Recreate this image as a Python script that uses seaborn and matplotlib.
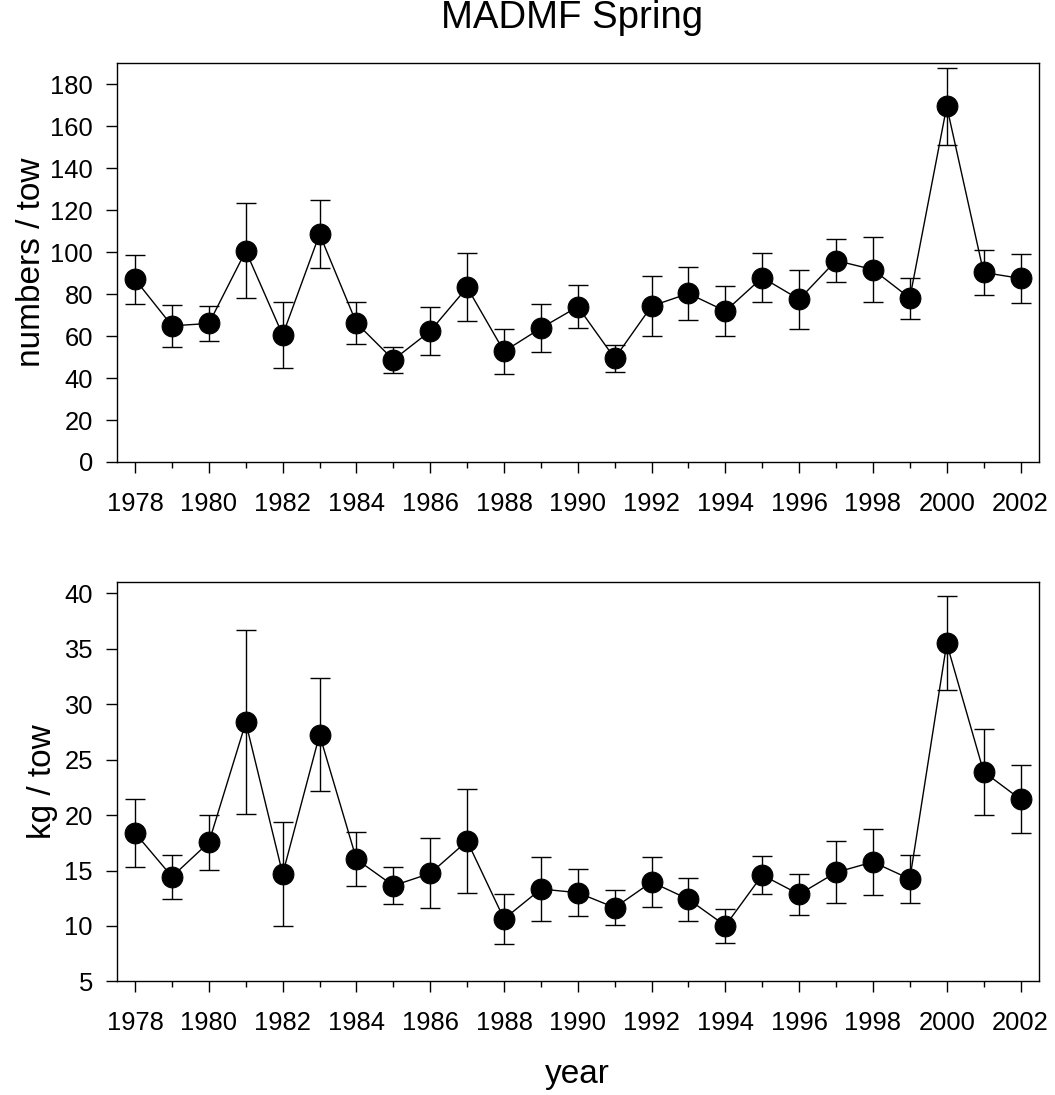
import matplotlib
matplotlib.use("Agg")
import matplotlib.pyplot as plt
from matplotlib.ticker import MultipleLocator
import seaborn as sns

# Survey index by year: mean and half-width of the error bar
years = list(range(1978, 2003))

numbers_mean = [87.0, 64.9, 66.0, 100.6, 60.5, 108.6, 66.2, 48.7, 62.4, 83.2,
                52.7, 63.8, 74.0, 49.4, 74.3, 80.3, 71.9, 87.9, 77.5, 96.0,
                91.7, 78.1, 169.5, 90.3, 87.5]
numbers_err = [11.8, 9.9, 8.3, 22.6, 15.6, 16.3, 10.2, 6.2, 11.4, 16.2,
               10.6, 11.4, 10.3, 6.5, 14.5, 12.8, 11.8, 11.5, 14.1, 10.3,
               15.6, 9.8, 18.4, 10.8, 11.7]

kg_mean = [18.38, 14.44, 17.54, 28.36, 14.68, 27.25, 16.01, 13.63, 14.74, 17.66,
           10.63, 13.33, 13.00, 11.65, 13.96, 12.40, 10.02, 14.59, 12.85, 14.83,
           15.77, 14.23, 35.49, 23.91, 21.42]
kg_err = [3.1, 2.0, 2.5, 8.3, 4.7, 5.1, 2.45, 1.65, 3.15, 4.7,
          2.27, 2.9, 2.1, 1.6, 2.24, 1.95, 1.55, 1.75, 1.83, 2.8,
          3.0, 2.13, 4.24, 3.9, 3.07]

title = "MADMF Spring"
top_ylabel = "numbers / tow"
bottom_ylabel = "kg / tow"
xlabel = "year"

sns.set_style("ticks")
plt.rcParams["font.family"] = ["Liberation Sans", "DejaVu Sans"]
plt.rcParams.update({
    "axes.linewidth": 1.0,
    "text.color": "black",
    "axes.labelcolor": "black",
    "axes.edgecolor": "black",
    "xtick.color": "black",
    "ytick.color": "black",
})

fig = plt.figure(figsize=(10.55, 10.95), dpi=100)
ax_top = fig.add_axes([0.1106, 0.5781, 0.8742, 0.3641])
ax_bot = fig.add_axes([0.1106, 0.1038, 0.8742, 0.3644])


def draw_panel(ax, means, errs, ylim, ystep, ylabel, label_x):
    ax.errorbar(years, means, yerr=errs, fmt="none", ecolor="black",
                elinewidth=1.0, capsize=7.5, capthick=1.0, zorder=2)
    sns.lineplot(x=years, y=means, ax=ax, color="black", linewidth=1.0,
                 marker="o", markersize=15, markeredgecolor="black",
                 markerfacecolor="black", zorder=3)
    ax.set_xlim(1977.5, 2002.5)
    ax.set_ylim(*ylim)
    ax.xaxis.set_minor_locator(MultipleLocator(1))
    ax.yaxis.set_major_locator(MultipleLocator(ystep))
    ax.set_xticks(years[::2])
    ax.set_xticklabels([str(y) for y in years[::2]])
    ax.tick_params(axis="both", which="major", direction="out", length=7.6,
                   width=1.0, labelsize=18.4)
    ax.tick_params(axis="x", which="major", pad=14)
    ax.tick_params(axis="y", which="major", pad=9.5)
    ax.tick_params(axis="x", which="minor", direction="out", length=4.3,
                   width=1.0)
    ax.tick_params(axis="y", which="minor", left=False)
    for side in ["top", "right", "left", "bottom"]:
        ax.spines[side].set_visible(True)
    ax.set_ylabel(ylabel, fontsize=24)
    ax.yaxis.set_label_coords(label_x, 0.5)
    ax.set_xlabel("")


draw_panel(ax_top, numbers_mean, numbers_err, (0, 190), 20, top_ylabel, -0.0756)
draw_panel(ax_bot, kg_mean, kg_err, (5, 41), 5, bottom_ylabel, -0.0633)

ax_top.set_title(title, fontsize=27.6, x=0.494, y=1.0685, va="baseline")
ax_bot.set_xlabel(xlabel, fontsize=24)
ax_bot.xaxis.set_label_coords(0.5, -0.2556)
ax_bot.xaxis.label.set_va("baseline")

fig.savefig("out.png", dpi=100, facecolor="white")
